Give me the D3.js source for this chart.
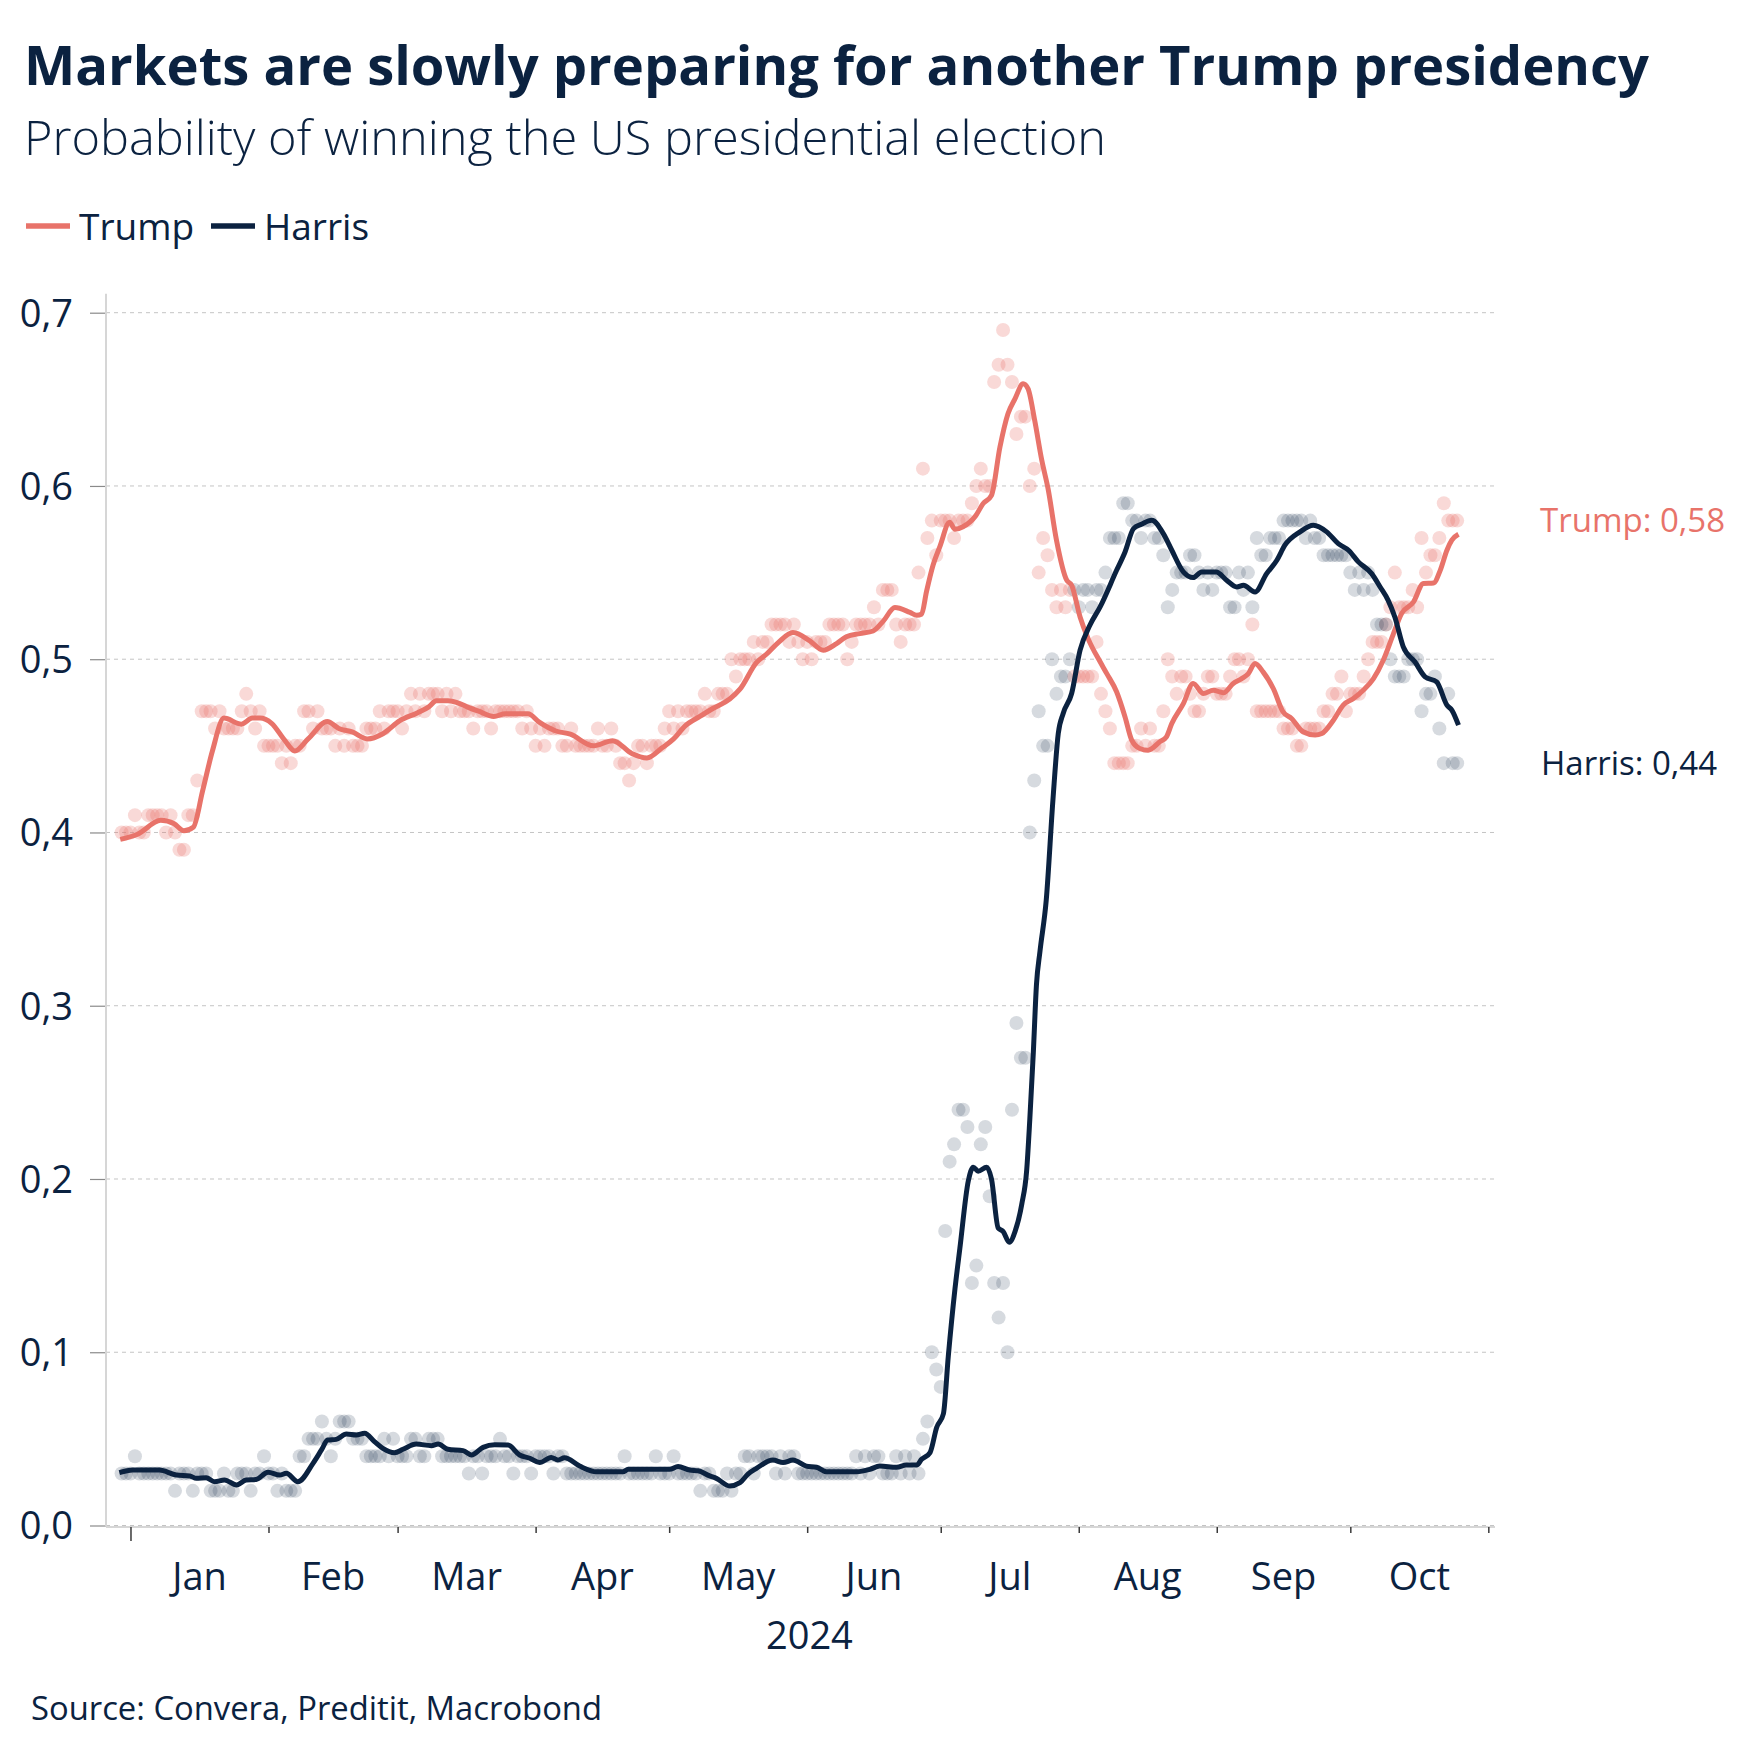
<!DOCTYPE html>
<html><head><meta charset="utf-8">
<script src="https://cdn.jsdelivr.net/npm/d3@7"></script>
<style>
html,body{margin:0;padding:0;background:#fff;}
svg{display:block;}
text{font-family:"Open Sans","Noto Sans",sans-serif;}
</style></head><body>
<svg id="chart" width="1761" height="1764"></svg>
<script>
// ---------------- DATA ----------------
const titleText = "Markets are slowly preparing for another Trump presidency";
const subtitleText = "Probability of winning the US presidential election";
const sourceText = "Source: Convera, Preditit, Macrobond";
const yearLabel = "2024";
const seriesNames = ["Trump", "Harris"];
const monthLabels = ["Jan","Feb","Mar","Apr","May","Jun","Jul","Aug","Sep","Oct"];
const yTicks = [0, 0.1, 0.2, 0.3, 0.4, 0.5, 0.6, 0.7];

// daily observations (percent), first day 2023-12-30
const dotStartDate = "2023-12-30";
const trumpDaily = [
40,40,40,41,40,40,41,41,41,41,
40,41,40,39,39,41,41,43,47,47,
47,46,47,46,46,46,46,47,48,47,
46,47,45,45,45,45,44,45,44,45,
45,47,47,46,47,46,46,46,45,46,
45,46,45,45,45,46,46,46,47,46,
47,47,47,46,47,48,47,48,47,48,
48,48,47,48,47,48,47,47,47,46,
47,47,47,46,47,47,47,47,47,47,
46,47,46,45,46,45,46,46,46,45,
45,46,45,45,45,45,45,46,45,45,
46,45,44,44,43,44,45,45,44,45,
45,45,46,47,46,47,46,47,47,47,
47,48,47,47,48,48,48,50,49,50,
50,50,51,50,51,51,52,52,52,52,
51,52,51,50,51,50,51,51,51,52,
52,52,52,50,51,52,52,52,52,53,
52,54,54,54,52,51,52,52,52,55,
61,57,58,56,58,58,58,57,58,58,
58,59,60,61,60,60,66,67,69,67,
66,63,64,64,60,61,55,57,56,54,
53,54,53,54,49,49,49,49,49,51,
48,47,46,44,44,44,44,45,45,46,
45,46,45,45,47,50,49,48,49,49,
48,47,47,48,49,49,48,48,48,49,
50,50,49,50,52,47,47,47,47,47,
47,46,46,46,45,45,46,46,46,46,
47,47,48,48,49,47,48,48,48,49,
50,51,51,51,52,53,55,53,53,53,
54,53,57,55,56,56,57,59,58,58,
58];
const harrisDaily = [
3,3,3,4,3,3,3,3,3,3,
3,3,2,3,3,3,2,3,3,3,
2,2,2,3,2,2,3,3,3,2,
3,3,4,3,3,2,3,2,2,2,
4,4,5,5,5,6,5,4,5,6,
6,6,5,5,5,4,4,4,4,5,
4,5,4,4,4,5,5,4,4,5,
5,5,4,4,4,4,4,4,3,4,
4,3,4,4,4,5,4,4,3,4,
4,4,3,4,4,4,4,3,4,4,
3,3,3,3,3,3,3,3,3,3,
3,3,3,4,3,3,3,3,3,3,
4,3,3,3,4,3,3,3,3,3,
2,3,3,2,2,2,3,2,3,3,
4,4,3,4,4,4,4,3,4,3,
4,4,3,3,3,3,3,3,3,3,
3,3,3,3,3,4,3,4,3,4,
4,3,3,3,4,3,4,3,4,3,
5,6,10,9,8,17,21,22,24,24,
23,14,15,22,23,19,14,12,14,10,
24,29,27,27,40,43,47,45,45,50,
48,49,49,50,54,53,54,54,53,54,
54,55,57,57,57,59,59,58,58,57,
58,58,57,57,56,53,54,55,55,55,
56,56,55,54,55,54,55,55,55,53,
53,55,54,55,53,57,56,56,57,57,
57,58,58,58,58,58,57,58,57,57,
56,56,56,56,56,56,55,54,55,54,
55,54,52,52,52,50,49,49,49,50,
50,50,47,48,48,49,46,44,48,44,
44];

// smoothed trend: [days since 2024-01-01, probability]
const trumpTrend = [
[-2.3,0.396],[1.6,0.399],[6.8,0.407],[9.8,0.405],[12.0,0.401],[14.1,0.403],[16.2,0.424],[18.4,0.447],
[21.0,0.466],[24.9,0.4625],[27.4,0.466],[29.1,0.466],[31.7,0.463],[34.7,0.453],[36.9,0.447],[39.9,0.454],
[44.2,0.464],[46.8,0.460],[49.8,0.458],[53.2,0.454],[56.7,0.457],[60.5,0.4645],[64.4,0.469],[67.0,0.4725],
[68.7,0.476],[71.3,0.476],[73.4,0.475],[75.6,0.4725],[78.2,0.470],[81.6,0.467],[84.2,0.4685],[89.3,0.4685],
[91.9,0.4635],[95.4,0.4587],[98.8,0.4567],[104.0,0.450],[108.3,0.453],[112.6,0.4456],[116.0,0.443],[119.5,0.449],
[122.0,0.454],[124.6,0.4615],[127.9,0.467],[130.9,0.4717],[134.6,0.477],[136.9,0.4827],[140.6,0.498],[142.9,0.503],
[145.5,0.5096],[148.8,0.5154],[152.6,0.5106],[155.6,0.5052],[158.6,0.509],[160.8,0.5129],[163.8,0.5148],[166.8,0.5163],
[169.1,0.522],[171.7,0.5298],[175.1,0.527],[176.6,0.5254],[177.7,0.526],[178.8,0.539],[180.3,0.5545],[181.8,0.565],
[184.0,0.579],[185.2,0.575],[187.0,0.5765],[189.9,0.583],[191.5,0.5898],[193.4,0.5946],[195.3,0.6225],[197.1,0.6417],
[198.7,0.6504],[200.5,0.659],[201.6,0.6562],[203.1,0.6379],[204.7,0.6148],[206.1,0.5985],[208.0,0.5687],[210.3,0.5456],
[211.4,0.5427],[213.3,0.5244],[215.1,0.5119],[217.8,0.4985],[219.3,0.4917],[221.5,0.4812],[223.4,0.4667],[224.9,0.4533],
[226.7,0.4485],[228.6,0.4475],[231.2,0.4523],[232.7,0.4552],[233.9,0.4629],[236.5,0.4744],[238.7,0.486],[241.0,0.4802],
[243.2,0.4821],[245.5,0.4806],[247.7,0.486],[249.6,0.4888],[251.1,0.4917],[252.6,0.4975],[254.4,0.4927],[256.7,0.4831],
[258.9,0.4696],[260.8,0.4658],[263.4,0.4581],[266.1,0.4562],[267.6,0.4571],[270.2,0.4648],[272.4,0.4735],[274.7,0.4773],
[276.9,0.4821],[279.2,0.4888],[281.4,0.4994],[283.7,0.5148],[285.5,0.5263],[288.2,0.5331],[290.4,0.5437],[292.7,0.544],
[294.2,0.5513],[295.7,0.5629],[296.8,0.5687],[298.3,0.5721]
];
const harrisTrend = [
[-2.5,0.0305],[0.5,0.032],[6.5,0.032],[10.3,0.0291],[13.3,0.0286],[14.8,0.0272],[17.0,0.0276],[18.9,0.0253],
[21.1,0.0263],[23.8,0.0234],[26.0,0.0263],[28.2,0.0266],[30.9,0.0307],[33.5,0.0291],[35.0,0.0301],[37.6,0.0253],
[41.0,0.0359],[42.9,0.0436],[44.3,0.0493],[46.2,0.0497],[48.5,0.0528],[50.7,0.0522],[52.6,0.0532],[54.8,0.0484],
[56.7,0.0445],[59.3,0.042],[61.2,0.044],[64.2,0.047],[67.6,0.0461],[69.1,0.047],[71.3,0.044],[74.7,0.0432],
[76.6,0.0407],[79.2,0.0451],[81.8,0.0466],[84.8,0.0464],[87.4,0.0407],[89.7,0.0388],[91.9,0.0363],[94.5,0.0393],
[96.0,0.0378],[97.5,0.0391],[100.9,0.0343],[104.7,0.031],[110.6,0.031],[111.8,0.0324],[121.1,0.0324],[123.0,0.034],
[125.6,0.032],[127.5,0.0316],[130.1,0.0286],[131.6,0.0272],[134.6,0.0228],[136.9,0.0247],[138.7,0.0297],[140.6,0.033],
[144.3,0.0378],[146.6,0.0363],[148.8,0.0378],[151.8,0.0343],[154.1,0.0336],[156.3,0.031],[163.1,0.031],[166.1,0.0324],
[168.3,0.0343],[172.1,0.0336],[174.3,0.0349],[176.6,0.0349],[177.7,0.0382],[179.6,0.0421],[181.1,0.0567],[182.6,0.0645],
[183.7,0.0977],[185.2,0.1366],[186.3,0.16],[188.2,0.199],[189.3,0.2068],[190.4,0.2045],[192.3,0.2068],[193.4,0.2],
[194.9,0.1717],[196.0,0.1698],[197.4,0.1635],[198.7,0.1698],[200.2,0.1854],[201.3,0.2049],[202.0,0.2341],[202.8,0.2731],
[203.5,0.3121],[204.3,0.3316],[205.7,0.361],[207.2,0.4187],[208.4,0.4571],[209.5,0.4687],[211.4,0.4802],[213.3,0.5052],
[215.5,0.5196],[217.8,0.5302],[221.5,0.5513],[223.4,0.5619],[225.3,0.5754],[227.1,0.5779],[229.4,0.5802],[232.0,0.5725],
[233.9,0.5629],[236.5,0.5504],[238.7,0.5471],[240.6,0.5504],[243.9,0.5504],[246.2,0.5456],[248.5,0.5417],[250.0,0.5427],
[252.6,0.5388],[255.2,0.5494],[257.5,0.5571],[259.3,0.5658],[262.7,0.5735],[265.7,0.5773],[268.7,0.5735],[271.3,0.5667],
[273.6,0.5629],[275.8,0.5562],[278.8,0.5494],[280.7,0.5417],[282.5,0.534],[284.0,0.5244],[285.9,0.5071],[288.5,0.4985],
[290.8,0.4898],[293.4,0.4869],[295.7,0.4735],[296.8,0.4706],[298.3,0.4619]
];

// ---------------- STYLE ----------------
const NAVY = "#0b2240", SALMON = "#e8736a";
const FONT = '"Open Sans","Noto Sans",sans-serif';

const svg = d3.select("#chart");
const X0 = 106, X1 = 1495, YB = 1525.5, YT = 312.7;

const x = d3.scaleTime()
  .domain([new Date(2023, 11, 26, 12), new Date(2024, 10, 2, 12)])
  .range([X0, X1]);
const y = d3.scaleLinear().domain([0, 0.7]).range([YB, YT]);

const base = new Date(2024, 0, 1);
const dayToDate = d => new Date(base.getTime() + d * 864e5);
const start = d3.timeParse("%Y-%m-%d")(dotStartDate);
const toDots = arr => arr.map((v, i) => ({date: d3.timeDay.offset(start, i), v: v / 100}));
const toTrend = arr => arr.map(([d, v]) => ({date: dayToDate(d), v}));

const locale = d3.formatLocale({decimal: ",", thousands: ".", grouping: [3], currency: ["", ""]});
const fmt1 = locale.format(".1f"), fmt2 = locale.format(".2f");

function fitWidth(sel, target) {
  const w = sel.node().getComputedTextLength();
  if (Math.abs(w - target) > 2) sel.attr("textLength", target).attr("lengthAdjust", "spacingAndGlyphs");
}

// ---------------- TITLES ----------------
const t = svg.append("text").attr("x", 24).attr("y", 85)
  .attr("font-size", 53).attr("font-weight", 700).attr("fill", NAVY).text(titleText);
fitWidth(t, 1625);
const st = svg.append("text").attr("x", 24).attr("y", 155)
  .attr("font-size", 48).attr("font-weight", 300).attr("fill", NAVY).text(subtitleText);
fitWidth(st, 1082);

// ---------------- LEGEND ----------------
const legend = svg.append("g");
const legX = [26, 211];
seriesNames.forEach((name, i) => {
  const c = i === 0 ? SALMON : NAVY;
  legend.append("line").attr("x1", legX[i]).attr("x2", legX[i] + 44).attr("y1", 226).attr("y2", 226)
    .attr("stroke", c).attr("stroke-width", 5.5);
  legend.append("text").attr("x", legX[i] + 53).attr("y", 240).attr("font-size", 37)
    .attr("fill", NAVY).text(name);
});

// ---------------- GRID ----------------
svg.append("g").selectAll("line").data(yTicks).join("line")
  .attr("x1", X0).attr("x2", X1).attr("y1", d => y(d)).attr("y2", d => y(d))
  .attr("stroke", "#c4c4c4").attr("stroke-width", 1).attr("stroke-dasharray", "4,4");

// y axis
const yAxis = svg.append("g").attr("transform", `translate(${X0},0)`)
  .call(d3.axisLeft(y).tickValues(yTicks).tickSize(16).tickPadding(17).tickFormat(fmt1));
yAxis.select(".domain").remove();
yAxis.selectAll(".tick line").attr("stroke", "#8a8a8a").attr("stroke-width", 1.2);
yAxis.selectAll(".tick text").attr("font-size", 38).attr("fill", NAVY).attr("font-family", FONT).attr("dy", "0.35em");
svg.append("line").attr("x1", X0).attr("x2", X0).attr("y1", y(0.711)).attr("y2", YB + 1)
  .attr("stroke", "#d6d6d6").attr("stroke-width", 2);

// x axis
const monthStarts = d3.timeMonth.range(new Date(2024, 0, 1), new Date(2024, 10, 2));
const xAxis = svg.append("g").attr("transform", `translate(0,${YB + 1.5})`)
  .call(d3.axisBottom(x).tickValues(monthStarts).tickSize(6).tickFormat(""));
xAxis.select(".domain").attr("stroke", "#d6d6d6").attr("stroke-width", 2)
  .attr("d", `M${X0},0H${X1}`);
xAxis.selectAll(".tick line").attr("stroke", "#3a3a3a").attr("stroke-width", 1.5)
  .attr("y2", (d, i) => i === 0 ? 14 : 6);

svg.append("g").selectAll("text").data(monthLabels).join("text")
  .attr("x", (d, i) => x(new Date((monthStarts[i].getTime() + monthStarts[i + 1].getTime()) / 2)))
  .attr("y", 1590).attr("text-anchor", "middle").attr("font-size", 38).attr("fill", NAVY).text(d => d);
svg.append("text").attr("x", (x(monthStarts[0]) + x(monthStarts[monthStarts.length - 1])) / 2)
  .attr("y", 1649).attr("text-anchor", "middle").attr("font-size", 38).attr("fill", NAVY).text(yearLabel);

// ---------------- DOTS ----------------
const dotsG = svg.append("g");
[[trumpDaily, SALMON, 0.27], [harrisDaily, NAVY, 0.17]].forEach(([arr, c, op]) => {
  dotsG.append("g").selectAll("circle").data(toDots(arr)).join("circle")
    .attr("cx", d => x(d.date)).attr("cy", d => y(d.v)).attr("r", 7)
    .attr("fill", c).attr("fill-opacity", op);
});

// ---------------- LINES ----------------
const line = d3.line().x(d => x(d.date)).y(d => y(d.v)).curve(d3.curveMonotoneX);
[[trumpTrend, SALMON], [harrisTrend, NAVY]].forEach(([arr, c]) => {
  svg.append("path").datum(toTrend(arr)).attr("d", line).attr("fill", "none")
    .attr("stroke", c).attr("stroke-width", 5).attr("stroke-linejoin", "round").attr("stroke-linecap", "butt");
});

// ---------------- END LABELS ----------------
const lastT = trumpDaily[trumpDaily.length - 1] / 100, lastH = harrisDaily[harrisDaily.length - 1] / 100;
svg.append("text").attr("x", 1540).attr("y", y(lastT)).attr("dy", "0.35em").attr("font-size", 33)
  .attr("fill", SALMON).text(`${seriesNames[0]}: ${fmt2(lastT)}`);
svg.append("text").attr("x", 1541).attr("y", y(lastH)).attr("dy", "0.35em").attr("font-size", 33)
  .attr("fill", NAVY).text(`${seriesNames[1]}: ${fmt2(lastH)}`);

// ---------------- SOURCE ----------------
const src = svg.append("text").attr("x", 31).attr("y", 1720).attr("font-size", 32)
  .attr("fill", NAVY).text(sourceText);
fitWidth(src, 571);
</script>
</body></html>
